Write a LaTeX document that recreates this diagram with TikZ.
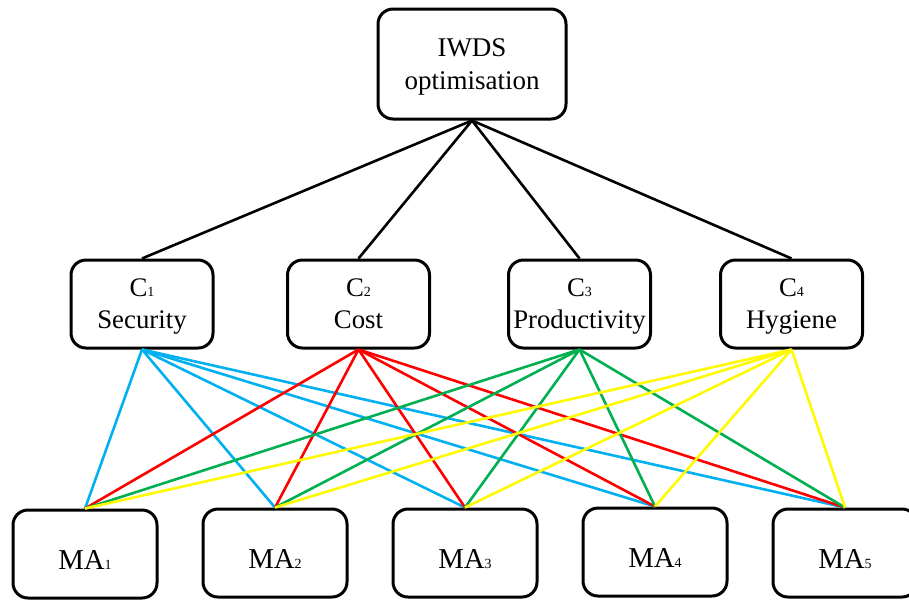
\documentclass[tikz,border=0pt]{standalone}
\usepackage{fontspec}
\setmainfont{Liberation Serif}
\definecolor{secblue}{RGB}{0,176,240}
\definecolor{costred}{RGB}{255,0,0}
\definecolor{prodgreen}{RGB}{0,176,80}
\definecolor{hygyellow}{RGB}{255,250,0}
\begin{document}
\begin{tikzpicture}[x=0.5pt,y=-0.5pt,
  box/.style={draw,line width=1.5pt,rounded corners=7.5pt,align=center,inner sep=0pt,text depth=0pt},
  goalbox/.style={box,minimum width=94pt,minimum height=55pt,font=\fontsize{13.5}{16.5}\selectfont},
  critbox/.style={box,minimum width=71pt,minimum height=44pt,font=\fontsize{13.4}{16}\selectfont},
  altbox/.style={box,minimum width=72pt,minimum height=44pt,text height=15pt,font=\fontsize{14.4}{17}\selectfont},
  link/.style={line width=1.3pt}]
\useasboundingbox (0,0) rectangle (909,601);
% goal
\node[goalbox] (goal) at (472,64) {IWDS\\optimisation};
% criteria
\node[critbox] (c1) at (142,304) {C{\scriptsize 1}\\Security};
\node[critbox] (c2) at (358.5,304) {C{\scriptsize 2}\\Cost};
\node[critbox] (c3) at (579.5,304) {C{\scriptsize 3}\\Productivity};
\node[critbox] (c4) at (791.5,304) {C{\scriptsize 4}\\Hygiene};
% alternatives
\node[altbox] (ma1) at (85,554) {MA{\scriptsize 1}};
\node[altbox] (ma2) at (275,553) {MA{\scriptsize 2}};
\node[altbox] (ma3) at (465,553) {MA{\scriptsize 3}};
\node[altbox] (ma4) at (655,552) {MA{\scriptsize 4}};
\node[altbox] (ma5) at (845,553) {MA{\scriptsize 5}};
% links
\foreach \c in {1,...,4}
  \draw[link] (goal.south) -- (c\c.north);
\foreach \c/\col in {1/secblue,2/costred,3/prodgreen,4/hygyellow}
  \foreach \m in {1,...,5}
    \draw[link,\col] (c\c.south) -- (ma\m.north);
\end{tikzpicture}
\end{document}
